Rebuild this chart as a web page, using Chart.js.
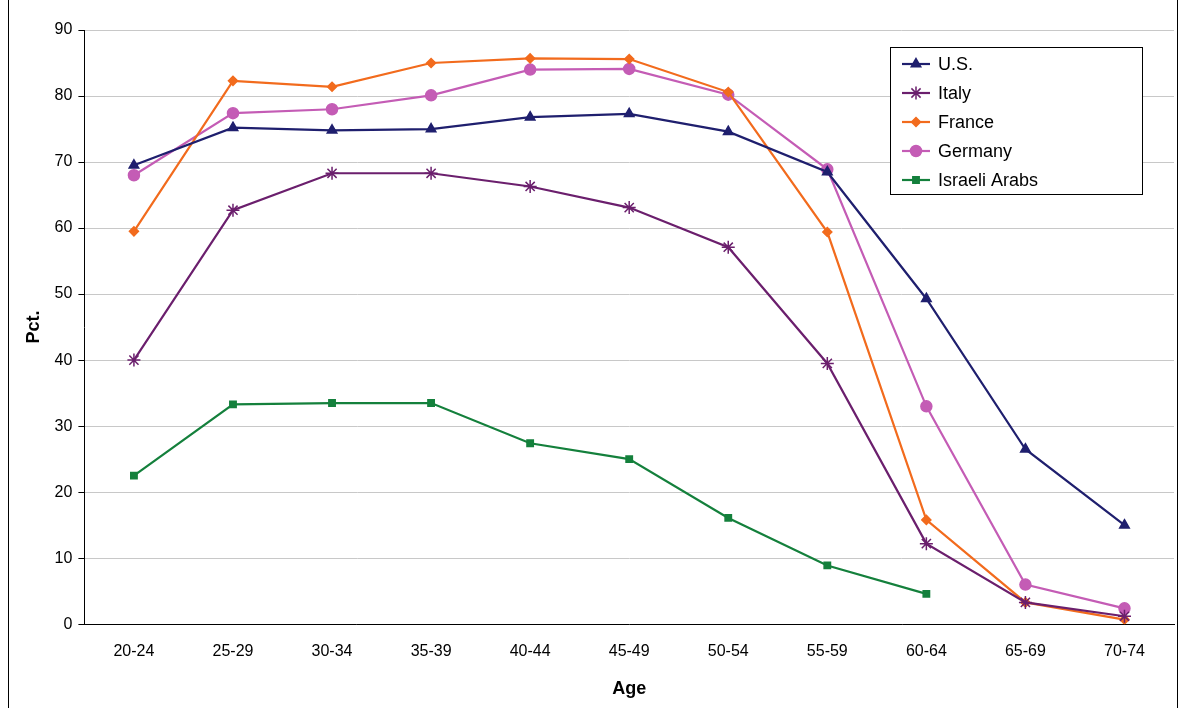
<!DOCTYPE html>
<html><head><meta charset="utf-8">
<script src="https://cdn.jsdelivr.net/npm/chart.js@4/dist/chart.umd.min.js"></script>
<style>
html,body{margin:0;padding:0;background:#fff;}
#wrap{position:absolute;left:0;top:0;width:1182px;height:708px;}
#frame{position:absolute;left:8px;top:-2px;width:1168px;height:712px;border:1px solid #000;}
</style></head><body>
<div id="wrap"><canvas id="c" width="1182" height="708"></canvas></div>
<div id="frame"></div>
<script>
const categories=["20-24","25-29","30-34","35-39","40-44","45-49","50-54","55-59","60-64","65-69","70-74"];
const us=[69.5,75.2,74.8,75,76.8,77.3,74.6,68.5,49.3,26.5,15];
const italy=[40,62.7,68.3,68.3,66.3,63.1,57.1,39.5,12.2,3.3,1.2];
const france=[59.5,82.3,81.4,85,85.7,85.6,80.6,59.4,15.8,3.3,0.7];
const germany=[68,77.4,78,80.1,84,84.1,80.2,68.9,33,6,2.4];
const israeliArabs=[22.5,33.3,33.5,33.5,27.4,25,16.1,8.9,4.6,null,null];
const yTicks=[0,10,20,30,40,50,60,70,80,90];

function ds(label,data,color,style,r){return{label,data,borderColor:color,backgroundColor:color,pointStyle:style,pointRadius:r,pointHoverRadius:r,borderWidth:2.2,pointBorderWidth:1.5,tension:0,spanGaps:false};}
const datasets=[
 ds("U.S.",us,"#1f1f6e","triangle",5.5),
 ds("Italy",italy,"#6b1f6d","star",6.5),
 ds("France",france,"#f26b1d","rectRot",4.5),
 ds("Germany",germany,"#c45cb5","circle",5.5),
 ds("Israeli Arabs",israeliArabs,"#14803c","rect",4.5)
];
const legendPlugin={id:"boxLegend",afterDraw(chart){
 const ctx=chart.ctx;const x=890,y=47,w=252,h=147;
 ctx.save();ctx.fillStyle="#fff";ctx.fillRect(x,y,w,h);ctx.strokeStyle="#000";ctx.lineWidth=1;ctx.strokeRect(x+0.5,y+0.5,w,h);
 ctx.font="18px 'Liberation Sans', Arial";ctx.textBaseline="middle";
 chart.data.datasets.forEach((d,i)=>{const cy=y+17+i*29;
  ctx.strokeStyle=d.borderColor;ctx.lineWidth=2.2;ctx.beginPath();ctx.moveTo(x+12,cy);ctx.lineTo(x+40,cy);ctx.stroke();
  ctx.fillStyle=d.borderColor;ctx.strokeStyle=d.borderColor;ctx.lineWidth=1.5;
  Chart.helpers.drawPoint(ctx,{pointStyle:d.pointStyle,radius:d.pointRadius,borderWidth:1.5,rotation:0},x+26,cy);
  ctx.fillStyle="#000";ctx.fillText(d.label,x+48,cy+1);});
 ctx.restore();}};
new Chart(document.getElementById("c"),{type:"line",data:{labels:categories,datasets},
 options:{responsive:false,animation:false,devicePixelRatio:1,
  layout:{padding:{left:19,right:6,top:30,bottom:4}},
  plugins:{legend:{display:false},tooltip:{enabled:false}},
  scales:{
   x:{offset:true,grid:{display:false,drawTicks:true},border:{color:"#000"},
      ticks:{color:"#000",font:{size:16,family:"'Liberation Sans', Arial"},maxRotation:0,padding:10},
      title:{display:true,text:"Age",color:"#000",font:{size:18,weight:"bold",family:"'Liberation Sans', Arial"},padding:{top:7}}},
   y:{min:0,max:90,afterBuildTicks:a=>{a.ticks=yTicks.map(v=>({value:v}));},
      grid:{color:"#c8c8c8",tickLength:6,tickColor:"#000"},border:{color:"#000"},
      ticks:{color:"#000",font:{size:16,family:"'Liberation Sans', Arial"},padding:6},
      title:{display:true,text:"Pct.",color:"#000",font:{size:18,weight:"bold",family:"'Liberation Sans', Arial"},padding:{bottom:4}}}
  }},plugins:[legendPlugin]});
</script></body></html>
